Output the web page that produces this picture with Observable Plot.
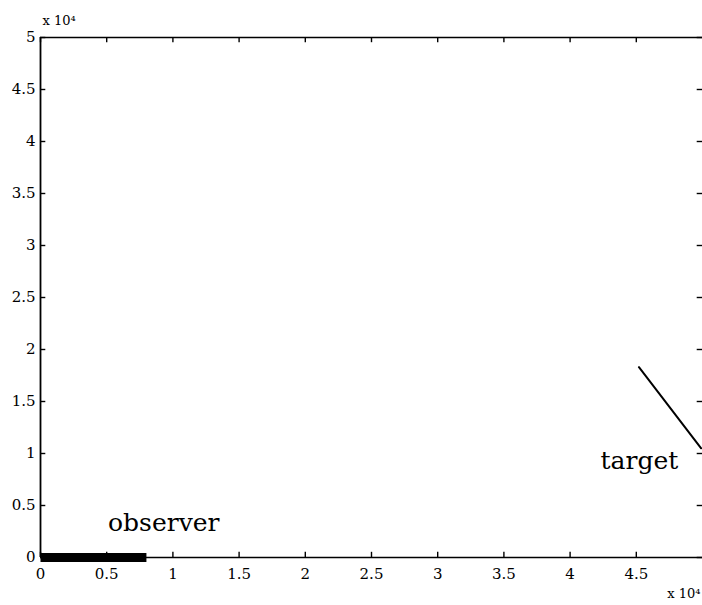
<!DOCTYPE html>
<html>
<head>
<meta charset="utf-8">
<script src="https://cdn.jsdelivr.net/npm/d3@7"></script>
<script src="https://cdn.jsdelivr.net/npm/@observablehq/plot@0.6"></script>
<style>
  html, body { margin: 0; padding: 0; background: #fff; }
</style>
</head>
<body>
<div id="chart"></div>
<script>
// Tick values (in units of 10^4)
const xTicks = [0, 0.5, 1, 1.5, 2, 2.5, 3, 3.5, 4, 4.5];
const yTicks = [0, 0.5, 1, 1.5, 2, 2.5, 3, 3.5, 4, 4.5, 5];
const xTickLabels = ["0", "0.5", "1", "1.5", "2", "2.5", "3", "3.5", "4", "4.5"];
const yTickLabels = ["0", "0.5", "1", "1.5", "2", "2.5", "3", "3.5", "4", "4.5", "5"];

// Observer track (x, y) in units of 10^4
const observerX = [0, 0.8];
const observerY = [0, 0];

// Target track
const targetX = [4.52, 4.99];
const targetY = [1.83, 1.05];

// Labels
const labelNames = ["observer", "target"];
const labelX = [0.51, 4.23];
const labelY = [0.33, 0.93];

const observer = observerX.map((x, i) => ({x, y: observerY[i]}));
const target = targetX.map((x, i) => ({x, y: targetY[i]}));
const labels = labelNames.map((t, i) => ({t, x: labelX[i], y: labelY[i]}));

const font = "'DejaVu Serif', 'Liberation Serif', serif";

const chart = Plot.plot({
  width: 702,
  height: 605,
  marginLeft: 40,
  marginRight: 0,
  marginTop: 37,
  marginBottom: 48,
  style: {fontFamily: font, fontSize: "15px", background: "#fff", color: "#000"},
  x: {domain: [0, 5]},
  y: {domain: [0, 5]},
  marks: [
    // frame: left, bottom, top
    Plot.ruleX([0], {y1: 0, y2: 5, stroke: "#000", strokeWidth: 1.8}),
    Plot.ruleY([0], {x1: 0, x2: 5, stroke: "#000", strokeWidth: 1.6}),
    Plot.ruleY([5], {x1: 0, x2: 5, stroke: "#000", strokeWidth: 1.5}),
    // inward ticks
    Plot.ruleX(xTicks, {y1: 0, y2: 0.05, stroke: "#000", strokeWidth: 1.4}),
    Plot.ruleX(xTicks, {y1: 4.95, y2: 5, stroke: "#000", strokeWidth: 1.4}),
    Plot.ruleY(yTicks, {x1: 0, x2: 0.04, stroke: "#000", strokeWidth: 1.4}),
    Plot.ruleY(yTicks, {x1: 4.96, x2: 5, stroke: "#000", strokeWidth: 1.4}),
    // axes (labels only)
    Plot.axisX(xTicks, {tickSize: 0, tickPadding: 11, tickFormat: (d, i) => xTickLabels[i], fontSize: 15, label: null}),
    Plot.axisY(yTicks, {tickSize: 0, tickPadding: 5, tickFormat: (d, i) => yTickLabels[i], fontSize: 15, label: null}),
    // exponent notes
    Plot.text(["x 10\u2074"], {frameAnchor: "top-left", dx: 2, dy: -22, textAnchor: "start", fontSize: 13, fill: "#000"}),
    Plot.text(["x 10\u2074"], {frameAnchor: "bottom-right", dx: -2, dy: 40, textAnchor: "end", fontSize: 13, fill: "#000"}),
    // observer track
    Plot.line(observer, {x: "x", y: "y", stroke: "#000", strokeWidth: 9, strokeLinecap: "butt"}),
    // target track
    Plot.line(target, {x: "x", y: "y", stroke: "#000", strokeWidth: 2}),
    // labels
    Plot.text(labels, {x: "x", y: "y", text: "t", textAnchor: "start", fontSize: 25, fill: "#000"})
  ]
});
document.getElementById("chart").appendChild(chart);
</script>
</body>
</html>
